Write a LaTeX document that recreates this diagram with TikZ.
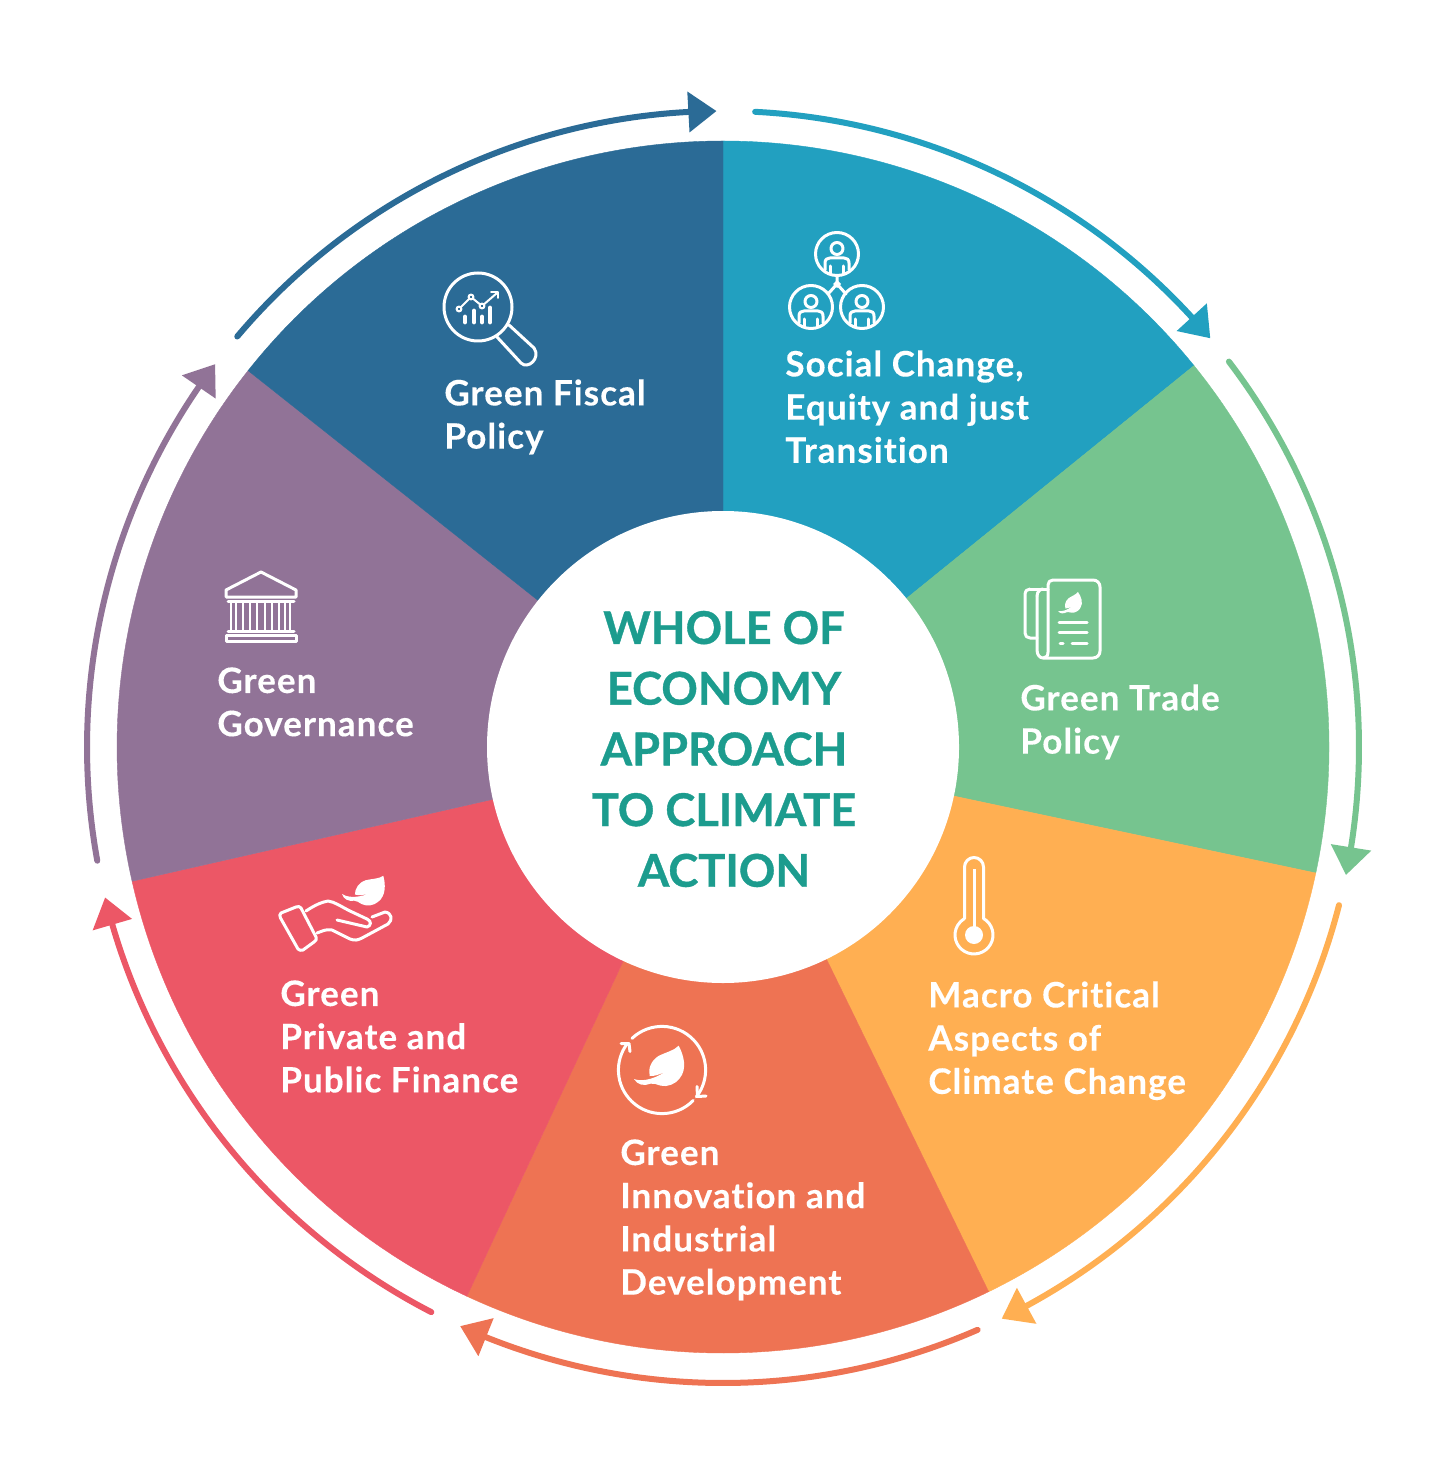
\documentclass[tikz,border=0pt]{standalone}
\usepackage{fontspec}
\setmainfont{Lato}[BoldFont={Lato Bold}]
\newfontfamily\labelfont{Lato Bold}[LetterSpace=3.0,FakeBold=0.25,RawFeature={-liga}]
\newfontfamily\titlefont{Lato Bold}[FakeBold=0.8,RawFeature={-liga}]
\definecolor{cfiscal}{HTML}{2B6B96}
\definecolor{csocial}{HTML}{22A0C0}
\definecolor{ctrade}{HTML}{76C48F}
\definecolor{cmacro}{HTML}{FFAF52}
\definecolor{cinno}{HTML}{EE7353}
\definecolor{cfinance}{HTML}{EC5766}
\definecolor{cgov}{HTML}{917397}
\definecolor{ctitle}{HTML}{1C9C8E}
\tikzset{
  sector/.style={fill=#1,draw=#1,line width=0.2pt},
  cyc/.style={draw=#1,line width=3pt,line cap=round},
  lbl/.style={text=white,font=\labelfont\fontsize{17.5}{21.6}\selectfont,align=left,anchor=north west,inner sep=0pt},
  ttl/.style={text=ctitle,font=\titlefont\fontsize{22.6}{30.35}\selectfont,align=center,anchor=center,inner sep=0pt},
  ico/.style={draw=white,line width=1.5pt,line cap=round,line join=round},
  icofill/.style={fill=white,draw=none}
}
\newcommand{\sectorshape}[3]{\fill[sector=#3] (0,0) ++(#1:606) arc[start angle=#1,end angle=#2,radius=606] -- (0,0) -- cycle;}
\newcommand{\cycarc}[3]{%
  \draw[cyc=#3] (#1:636) arc[start angle=#1,end angle={#2+2.4},radius=636];
  \fill[#3] ({#2+2.52}:615.5) -- (#2:636) -- ({#2+2.52}:656.5) -- cycle;}
\newcommand{\leafshape}[4]{\fill[white,shift={(#1,#2)},rotate=#3,scale=#4]
  (0,0) .. controls (15,-6) and (50,-8) .. (97,24)
  .. controls (75,12) and (60,8) .. (47,9)
  .. controls (42,30) and (50,55) .. (75,70)
  .. controls (95,80) and (120,85) .. (134,100)
  .. controls (150,70) and (160,30) .. (137,2)
  .. controls (125,-15) and (100,-25) .. (80,-20)
  .. controls (65,-16) and (60,-12) .. (50,-14)
  .. controls (30,-22) and (10,-18) .. (0,0) -- cycle;}
\newcommand{\personicon}[2]{
  \begin{scope}[shift={(#1,#2)}]
    \draw[ico] (0,0) circle[radius=21.5];
    \draw[ico] (0,5.5) circle[radius=6];
    \draw[ico] (-12,-16) -- (-12,-9) .. controls (-12,-5.5) and (-10,-4) .. (-7,-4) -- (7,-4) .. controls (10,-4) and (12,-5.5) .. (12,-9) -- (12,-16);
    \draw[ico] (-6.5,-12) -- (-6.5,-19.5);
    \draw[ico] (6.5,-12) -- (6.5,-19.5);
  \end{scope}}
\begin{document}
\begin{tikzpicture}[x=0.5pt,y=0.5pt]
\useasboundingbox (0,0) rectangle (1455,-1475);
\fill[white] (0,0) rectangle (1455,-1475);
\begin{scope}[shift={(723,-747)}]
  \sectorshape{90}{39}{csocial}
  \sectorshape{39}{-12}{ctrade}
  \sectorshape{-12}{-64}{cmacro}
  \sectorshape{-64}{-115}{cinno}
  \sectorshape{-115}{-167.2}{cfinance}
  \sectorshape{192.8}{141.6}{cgov}
  \sectorshape{141.6}{90}{cfiscal}
  \fill[white] (0,0) circle[radius=236];
  \cycarc{139.8}{90.6}{cfiscal}
  \cycarc{87.1}{40}{csocial}
  \cycarc{37.3}{-11.6}{ctrade}
  \cycarc{-14.4}{-64}{cmacro}
  \cycarc{-66.4}{-114.4}{cinno}
  \cycarc{-117.3}{-166.3}{cfinance}
  \cycarc{190.3}{143}{cgov}
\end{scope}

\node[ttl] (title) at (724,-749) {WHOLE OF\\ECONOMY\\APPROACH\\TO CLIMATE\\ACTION};
\node[lbl] (fiscal) at (444,-379) {Green Fiscal\\Policy};
\node[lbl] (social) at (785,-350) {Social Change,\\Equity and just\\Transition};
\node[lbl] (trade) at (1020,-684) {Green Trade\\Policy};
\node[lbl] (macro) at (928,-981) {Macro Critical\\Aspects of\\Climate Change};
\node[lbl] (inno) at (620,-1139) {Green\\Innovation and\\Industrial\\Development};
\node[lbl] (finance) at (280,-980) {Green\\Private and\\Public Finance};
\node[lbl] (gov) at (217,-667) {Green\\Governance};

% magnifier
\draw[ico] (478,-307) circle[radius=34];
\draw[ico] (497,-337) -- (521,-363) .. controls (528,-370) and (541,-358) .. (534,-348) -- (509,-325);
\draw[ico,line width=1pt] (459,-309) -- (471,-297) -- (482,-306) -- (497,-293);
\draw[ico,line width=1pt] (491,-292) -- (498,-292) -- (498,-298);
\foreach \px/\py in {459/309,471/297,482/306}{\draw[white,line width=1pt,fill=cfiscal] (\px,-\py) circle[radius=2.4];}
\foreach \bx/\by in {465/317,474/311,482/317,490/308}{\draw[white,line width=2.4pt,line cap=round] (\bx,-\by) -- (\bx,-322);}

% people
\personicon{837}{-254}
\personicon{811}{-307}
\personicon{862}{-307}
\draw[ico] (837,-276) -- (837,-284) (828,-294) -- (837,-284) -- (846,-294);
\fill[white] (837,-280) -- (841,-284) -- (837,-288) -- (833,-284) -- cycle;

% document
\draw[ico] (1030,-589) -- (1048,-589);
\draw[ico] (1037,-638) -- (1030,-638) .. controls (1027,-638) and (1025,-636) .. (1025,-633) -- (1025,-595) .. controls (1025,-591) and (1027,-589) .. (1030,-589);
\draw[ico] (1037,-596) .. controls (1037,-591) and (1041,-589) .. (1043,-589);
\draw[ico] (1037,-596) -- (1037,-650) .. controls (1037,-655) and (1040,-658) .. (1043,-658) -- (1093,-658) .. controls (1097,-658) and (1100,-655) .. (1100,-651) -- (1100,-587) .. controls (1100,-583) and (1097,-580) .. (1093,-580) -- (1053,-580) .. controls (1050,-580) and (1048,-582) .. (1048,-585) -- (1048,-652) .. controls (1048,-656) and (1046,-658) .. (1043,-658);
\leafshape{1058}{-611}{7}{0.165}
\draw[ico] (1059,-622) -- (1087,-622);
\draw[ico] (1059,-632) -- (1087,-632);
\draw[ico] (1060,-643) -- (1063,-643);
\draw[ico] (1072,-643) -- (1087,-643);

% thermometer
\draw[ico] (964.5,-918.5) -- (964.5,-867) arc[start angle=180,end angle=0,radius=9.5] -- (983.5,-918.5) arc[start angle=60,end angle=-240,radius=19];
\draw[white,line width=1.5pt] (974,-869) -- (974,-930);
\fill[white] (974,-935) circle[radius=9];

% cycle + leaf
\begin{scope}[shift={(662,-1070)}]
  \draw[ico] (133.5:43.6) arc[start angle=133.5,end angle=-38,radius=43.6];
  \draw[ico] (-44.4:43.6) arc[start angle=-44.4,end angle=-217.6,radius=43.6];
  \draw[ico] (35,-16.5) -- (35.5,-26.5) -- (44,-26);
  \draw[ico] (-41,26.5) -- (-33,26.5) -- (-32,18.5);
\end{scope}
\leafshape{634}{-1079}{0}{0.3333}

% hand
\leafshape{342}{-894}{-13}{0.27}
\draw[ico] (280.5,-918) .. controls (279,-916) and (280,-914) .. (281,-913) -- (296,-907) .. controls (298,-906) and (300,-906.5) .. (301,-908) -- (316,-937) .. controls (317,-939) and (316,-941) .. (314,-942) -- (303,-950) .. controls (301,-951) and (299,-950) .. (298,-949) -- cycle;
\draw[ico] (306,-911) .. controls (315,-905) and (322,-902) .. (328,-901) .. controls (335,-902) and (340,-906) .. (350,-911) -- (367,-919) .. controls (372,-921) and (371,-926) .. (367,-927) -- (337,-920);
\draw[ico] (317,-933) .. controls (323,-931) and (325,-929) .. (332,-930) -- (350,-939) .. controls (355,-941) and (358,-940) .. (362,-938) -- (388,-924) .. controls (393,-920) and (392,-913) .. (385,-912) -- (372,-917);

% bank
\draw[ico] (226,-597) -- (226,-590) -- (261,-572) -- (296,-590) -- (296,-597) -- cycle;
\draw[ico] (228,-601) -- (294,-601);
\draw[ico] (228,-631) -- (294,-631);
\draw[ico] (226,-635) rectangle (296,-641);
\foreach \cx in {231,236,243,250,257,265,272,279,285,290}{\draw[white,line width=1.1pt] (\cx,-601) -- (\cx,-631);}
\end{tikzpicture}
\end{document}
